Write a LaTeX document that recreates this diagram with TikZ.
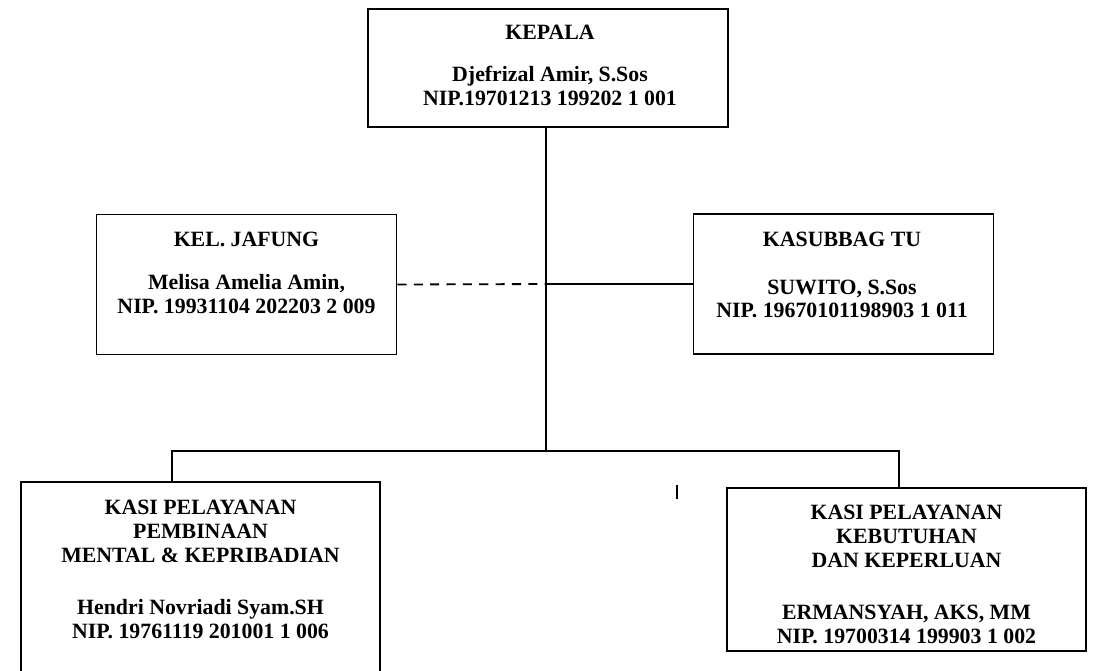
\documentclass[tikz,border=0pt]{standalone}
\usepackage{fontspec}
\setmainfont{Liberation Serif}
\usepackage{tikz}
\usetikzlibrary{positioning,calc}

\begin{document}
\begin{tikzpicture}[x=0.55pt,y=-0.55pt,
    box/.style={draw,line width=1pt,inner sep=0pt,minimum width=197.5pt},
    txt/.style={font=\fontsize{12}{13}\selectfont\bfseries,align=center,inner sep=0pt,anchor=north},
    link/.style={line width=1pt}]
    \useasboundingbox (0,0) rectangle (1094,670);

    % Kepala box
    \node[box,minimum width=198pt,minimum height=65pt] (kepala) at (548,68) {};
    \node[txt] (kepalatxt) at (550,25)
      {KEPALA\\[10pt]Djefrizal Amir, S.Sos\\NIP.19701213 199202 1 001};

    % Jafung and Kasubbag boxes
    \node[box,minimum width=165pt,minimum height=77pt] (jafung) at (246.5,284.5) {};
    \node[txt] (jafungtxt) at (246.5,232)
      {KEL. JAFUNG\\[10.5pt]Melisa Amelia Amin,\\NIP. 19931104 202203 2 009};
    \node[box,minimum width=165pt,minimum height=77pt] (kasubbag) at (843.5,284) {};
    \node[txt] (kasubbagtxt) at (842,232)
      {KASUBBAG TU\\[13pt]SUWITO, S.Sos\\NIP. 19670101198903 1 011};

    % Kasi boxes
    \node[box,minimum height=114.4pt] (pembinaan) at (200.5,586) {};
    \node[txt] (pembinaantxt) at (200.5,500)
      {KASI PELAYANAN\\PEMBINAAN\\MENTAL \& KEPRIBADIAN\\[16pt]%
       Hendri Novriadi Syam.SH\\NIP. 19761119 201001 1 006};
    \node[box,minimum height=89.6pt] (kebutuhan) at (906.5,569.5) {};
    \node[txt] (kebutuhantxt) at (906.5,505)
      {KASI PELAYANAN\\KEBUTUHAN\\DAN KEPERLUAN\\[16pt]%
       ERMANSYAH, AKS, MM\\NIP. 19700314 199903 1 002};

    % Trunk, staff line and bus
    \coordinate (hub) at (546,284);
    \coordinate (bus) at (546,451);
    \coordinate (busL) at (172,451);
    \coordinate (busR) at (899,451);
    \draw[link] (kepala.south -| bus) -- (bus);
    \draw[link,dash pattern=on 5pt off 4pt] (jafung.east) -- (hub);
    \draw[link] (hub) -- (kasubbag.west);
    \draw[link] (busL |- pembinaan.north) -- (busL) -- (busR) -- (busR |- kebutuhan.north);

    % stray tick
    \coordinate (tick) at (677,485);
    \draw[link] (tick) -- ++(0,14);
\end{tikzpicture}
\end{document}
